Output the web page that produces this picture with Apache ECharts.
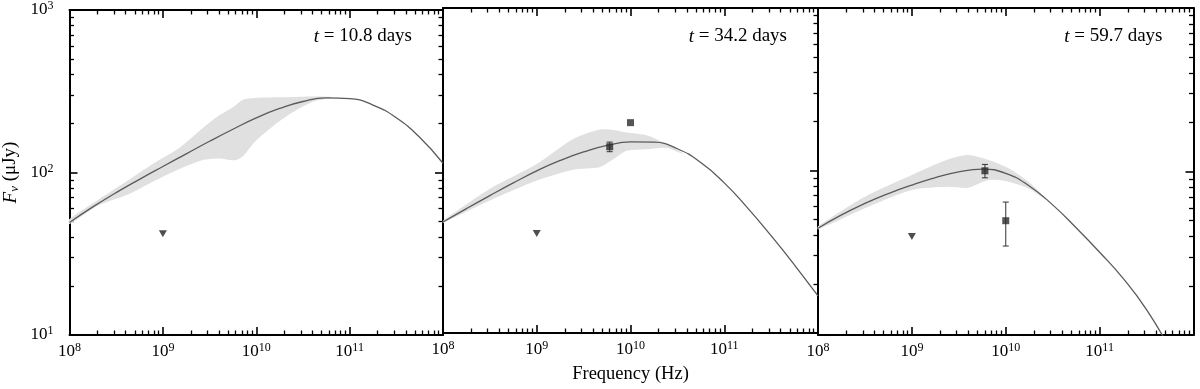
<!DOCTYPE html>
<html>
<head>
<meta charset="utf-8">
<script src="https://cdn.jsdelivr.net/npm/echarts@6/dist/echarts.min.js"></script>
<style>html,body{margin:0;padding:0;background:#fff}#chart{width:1200px;height:389px}</style>
</head>
<body>
<div id="chart"></div>
<script>
// model curves (frequency in Hz, flux in uJy)
var curveNu = [1e8, 1.78e8, 3.16e8, 5.62e8, 1e9, 1.78e9, 3.16e9, 5.62e9, 1e10, 1.78e10, 3.16e10, 5.62e10, 1e11, 1.78e11, 3.16e11, 5.62e11, 1e12];
var curve1 = [49.3, 61.4, 75.2, 90.8, 108.9, 130.3, 155.6, 184.5, 216.8, 247.7, 273.5, 287.7, 285.1, 260, 217.3, 164.8, 114];
var curve2 = [48.2, 58.3, 70.1, 83.9, 99.5, 115.3, 130, 142.6, 150, 149.3, 136.1, 111.9, 83.9, 58.7, 39.7, 26.2, 16.9];
var curve3 = [45, 54.3, 63.8, 73.3, 82.6, 91.6, 99.5, 103.3, 97.5, 81.5, 62.5, 45.3, 32.1, 22.2, 14.3, 8.2, 4.2];

// grey uncertainty bands
var band1Nu = [1e8, 2e8, 4.3e8, 7.9e8, 1.48e9, 2.63e9, 3.98e9, 5.9e9, 7.2e9, 9.7e9, 1.58e10, 2.57e10, 4.17e10, 6.3e10];
var band1Lo = [48.2, 62.5, 73.6, 88, 104.7, 119, 122, 119, 126, 155, 197, 238, 274, 287];
var band1Hi = [51.8, 67.6, 90, 113.5, 141, 186, 224, 257, 280, 287, 290, 292, 294, 292];

var band2Nu = [1e8, 3.16e8, 1e9, 2.45e9, 4.68e9, 6.6e9, 9.1e9, 1.48e10, 2.4e10, 3.55e10];
var band2Lo = [47.6, 65.3, 86.7, 101.2, 104.7, 117.5, 132.1, 135.2, 138, 127];
var band2Hi = [49.0, 77.1, 109.6, 156, 178.6, 177.8, 171.4, 164.8, 146.2, 128.8];

var band3Nu = [1e8, 3.16e8, 1e9, 2.45e9, 3.98e9, 6.6e9, 1.07e10, 1.74e10, 2.63e10];
var band3Lo = [44.2, 59.6, 77.1, 80.7, 79.6, 88.7, 86.7, 78.9, 67.5];
var band3Hi = [46.2, 70.1, 95.3, 118.9, 126.2, 117.5, 104.7, 86.7, 69.5];

// observations
var ulNu = [1e9];
var ul1 = [42], ul2 = [41], ul3 = [40];
var det2Nu = [6e9, 1e10], det2 = [140, 197], det2Err = [9.5, 0];
var det3Nu = [6e9, 1e10], det3 = [101, 50], det3Err = [9.5, 15];

var epochs = ['10.8', '34.2', '59.7'];

var FONT = 'Liberation Serif';
var chart = echarts.init(document.getElementById('chart'));

var powRich = {
    base: {fontFamily: FONT, fontSize: 17, lineHeight: 20, color: '#000'},
    sup: {fontFamily: FONT, fontSize: 12, lineHeight: 12, verticalAlign: 'top', color: '#000'}
};
function powLabel(v) {
    return '{base|10}{sup|' + Math.round(Math.log10(v)) + '}';
}

function logAxis(extra) {
    var ax = {
        type: 'log', logBase: 10,
        axisLine: {show: true, onZero: false, lineStyle: {color: '#000', width: 2}},
        axisTick: {show: true, inside: true, length: 8, lineStyle: {color: '#000', width: 1.6}},
        minorTick: {show: true, splitNumber: 9, length: 4.5, lineStyle: {color: '#000', width: 1.3}},
        axisLabel: {show: false},
        splitLine: {show: false},
        minorSplitLine: {show: false},
        silent: true
    };
    return Object.assign(ax, extra);
}

function bandSeries(idx, nu, lo, hi) {
    return {
        type: 'custom', xAxisIndex: idx, yAxisIndex: idx, silent: true, z: 1,
        data: nu.map(function (f, k) { return [f, lo[k], hi[k]]; }),
        renderItem: function (params, api) {
            if (params.dataIndex !== 0) return;
            var pts = [];
            for (var k = 0; k < nu.length; k++) pts.push(api.coord([nu[k], hi[k]]));
            for (var j = nu.length - 1; j >= 0; j--) pts.push(api.coord([nu[j], lo[j]]));
            return {type: 'polygon', shape: {points: pts, smooth: 0.25}, style: {fill: '#e0e0e0'}};
        }
    };
}

function errSeries(idx, nu, val, err) {
    return {
        type: 'custom', xAxisIndex: idx, yAxisIndex: idx, silent: true, z: 4,
        data: nu.map(function (f, k) { return [f, val[k] - err[k], val[k] + err[k]]; }),
        renderItem: function (params, api) {
            if (api.value(2) === api.value(1)) return;
            var a = api.coord([api.value(0), api.value(1)]);
            var b = api.coord([api.value(0), api.value(2)]);
            var st = {stroke: '#333', lineWidth: 1};
            return {type: 'group', children: [
                {type: 'line', shape: {x1: a[0], y1: a[1], x2: b[0], y2: b[1]}, style: st},
                {type: 'line', shape: {x1: a[0] - 3, y1: a[1], x2: a[0] + 3, y2: a[1]}, style: st},
                {type: 'line', shape: {x1: b[0] - 3, y1: b[1], x2: b[0] + 3, y2: b[1]}, style: st}
            ]};
        }
    };
}

var panels = [
    {curve: curve1, bnu: band1Nu, lo: band1Lo, hi: band1Hi, ul: ul1, dnu: [], det: [], err: []},
    {curve: curve2, bnu: band2Nu, lo: band2Lo, hi: band2Hi, ul: ul2, dnu: det2Nu, det: det2, err: det2Err},
    {curve: curve3, bnu: band3Nu, lo: band3Lo, hi: band3Hi, ul: ul3, dnu: det3Nu, det: det3, err: det3Err}
];
var lefts = [67, 443, 818], widths = [376, 375, 375.5];

var grids = [], xAxes = [], yAxes = [], series = [], titles = [];
panels.forEach(function (p, i) {
    grids.push({left: lefts[i], width: widths[i], top: 8, height: 327});
    var bx = 2 * i;
    var bottom = logAxis({gridIndex: i, position: 'bottom', min: 1e8, max: 1e12,
        axisLabel: {show: true, showMaxLabel: false, showMinLabel: true, margin: 7, fontFamily: FONT, fontSize: 17, color: '#000',
            formatter: powLabel, rich: powRich}});
    if (i === 1) {
        bottom.name = 'Frequency (Hz)';
        bottom.nameLocation = 'middle';
        bottom.nameGap = 32;
        bottom.nameTextStyle = {fontFamily: FONT, fontSize: 18.5, color: '#000'};
    }
    xAxes.push(bottom);
    xAxes.push(logAxis({gridIndex: i, position: 'top', min: 1e8, max: 1e12}));

    var left = logAxis({gridIndex: i, position: 'left', min: 10, max: 1000});
    if (i === 0) {
        left.axisLabel = {show: true, showMinLabel: true, showMaxLabel: true, margin: 16, fontFamily: FONT, fontSize: 17, color: '#000',
            formatter: powLabel, rich: powRich};
        left.name = '{i|F}{sub|\u03bd} (\u03bcJy)';
        left.nameLocation = 'middle';
        left.nameRotate = 90;
        left.nameGap = 48;
        left.nameTextStyle = {fontFamily: FONT, fontSize: 19, color: '#000', rich: {
            i: {fontFamily: FONT, fontStyle: 'italic', fontSize: 19, lineHeight: 22, color: '#000'},
            sub: {fontFamily: FONT, fontStyle: 'italic', fontSize: 13, lineHeight: 13, verticalAlign: 'bottom', color: '#000'}
        }};
    } else {
        left.axisTick = {show: false};
        left.minorTick = {show: false};
    }
    yAxes.push(left);
    yAxes.push(logAxis({gridIndex: i, position: 'right', min: 10, max: 1000}));

    series.push(bandSeries(bx, p.bnu, p.lo, p.hi));
    series.push({
        type: 'line', xAxisIndex: bx, yAxisIndex: bx, z: 3, silent: true,
        showSymbol: false, smooth: 0.5, clip: true,
        lineStyle: {color: '#5a5a5a', width: 1.3},
        data: curveNu.map(function (f, k) { return [f, p.curve[k]]; })
    });
    series.push({
        type: 'scatter', xAxisIndex: bx, yAxisIndex: bx, z: 5, silent: true,
        symbol: 'triangle', symbolRotate: 180, symbolSize: [8, 7],
        itemStyle: {color: '#222'},
        data: ulNu.map(function (f, k) { return [f, p.ul[k]]; })
    });
    if (p.dnu.length) {
        series.push(errSeries(bx, p.dnu, p.det, p.err));
        series.push({
            type: 'scatter', xAxisIndex: bx, yAxisIndex: bx, z: 5, silent: true,
            symbol: 'rect', symbolSize: 7,
            itemStyle: {color: '#2b2b2b'},
            data: p.dnu.map(function (f, k) { return [f, p.det[k]]; })
        });
    }
    titles.push({
        text: '{i|t} = ' + epochs[i] + ' days',
        right: 1200 - (lefts[i] + widths[i] - 31), top: 27, padding: 0,
        textStyle: {fontFamily: FONT, fontSize: 19, fontWeight: 'normal', color: '#000',
            rich: {i: {fontFamily: FONT, fontStyle: 'italic', fontSize: 19, color: '#000'}}}
    });
});

chart.setOption({
    backgroundColor: '#fff',
    animation: false,
    title: titles,
    grid: grids,
    xAxis: xAxes,
    yAxis: yAxes,
    series: series
});
</script>
</body>
</html>
